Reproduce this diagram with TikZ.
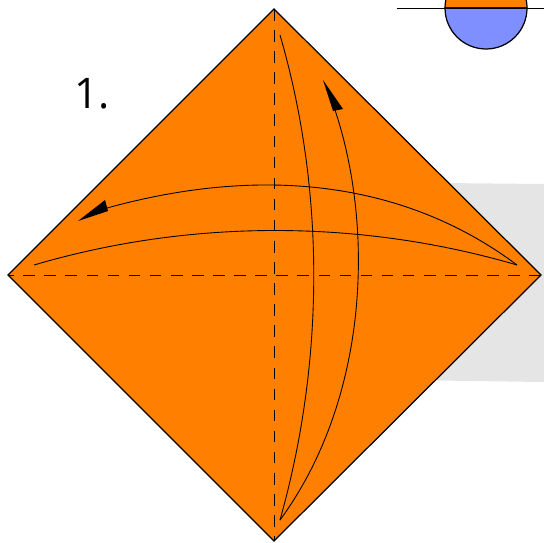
\documentclass[tikz,border=0pt]{standalone}
\usepackage{fontspec}
\setmainfont{Open Sans}
\definecolor{paperfront}{HTML}{FF7F00}
\definecolor{paperback}{HTML}{7F8FFF}
\definecolor{shadowgray}{HTML}{E5E5E5}
\tikzset{
  foldline/.style={dash pattern=on 6.6pt off 5.4pt, line width=0.5pt},
  moveline/.style={line width=0.5pt}
}
\begin{document}
\begin{tikzpicture}[x=0.2mm, y=-0.2mm]
    \useasboundingbox (0,0) rectangle (544,542);
    % shadow behind the sheet
    \fill[shadowgray] (440,183) -- (544,184) -- (544,382) -- (400,380) -- cycle;
    % side view of the paper, cut by the top edge
    \begin{scope}
      \clip (0,0) rectangle (544,542);
      \draw[fill=paperfront, line width=0.7pt] (445,8) arc (180:360:41 and 41) -- cycle;
      \draw[fill=paperback, line width=0.7pt] (445,8) arc (180:0:41 and 41) -- cycle;
      \draw[line width=0.5pt] (397,8) -- (544,8);
    \end{scope}
    % the square sheet, standing on a corner
    \coordinate (top) at (274,9);
    \coordinate (right) at (541,275);
    \coordinate (bottom) at (274,541);
    \coordinate (left) at (8,275);
    \draw[fill=paperfront, line width=0.7pt] (top) -- (right) -- (bottom) -- (left) -- cycle;
    \draw[foldline] (right) -- (left);
    \draw[foldline] (top) -- (bottom);
    % fold lines, horizontal pair
    \draw[moveline] (34,265) .. controls (190,219) and (360,219) .. (517,265);
    \draw[moveline] (517,265) .. controls (410,185) and (270,163) .. (107,208);
    \fill (78,221) -- (105,200) -- (108,211) -- cycle;
    % fold lines, vertical pair
    \draw[moveline] (280,35) .. controls (325,190) and (325,360) .. (280,520);
    \draw[moveline] (280,520) .. controls (368,400) and (375,230) .. (335,110);
    \fill (323,80) -- (343,109) -- (333,111) -- cycle;
    \node[anchor=base west, inner sep=0pt, font=\fontsize{24pt}{24pt}\selectfont] (steplabel) at (74,108) {1.};
\end{tikzpicture}
\end{document}
